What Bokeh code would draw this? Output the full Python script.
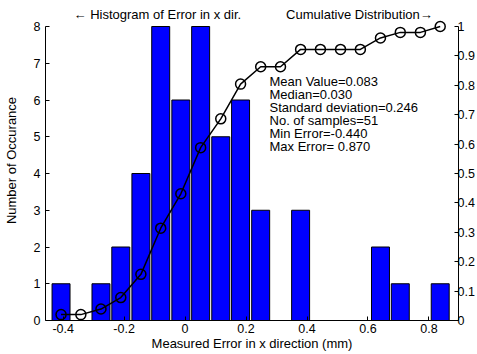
from bokeh.plotting import figure
from bokeh.models import Range1d, LinearAxis, FixedTicker, Label
from bokeh.embed import file_html
from bokeh.resources import INLINE

# Data
bin_centers = [-0.407, -0.342, -0.276, -0.211, -0.145, -0.080, -0.014, 0.051, 0.117, 0.182,
               0.248, 0.313, 0.379, 0.444, 0.510, 0.575, 0.641, 0.706, 0.772, 0.837]
counts = [1, 0, 1, 2, 4, 8, 6, 8, 5, 6, 3, 0, 3, 0, 0, 0, 2, 1, 0, 1]
cdf = [0.020, 0.020, 0.039, 0.078, 0.157, 0.314, 0.431, 0.588, 0.686, 0.804,
       0.863, 0.863, 0.922, 0.922, 0.922, 0.922, 0.961, 0.980, 0.980, 1.000]
bin_width = 0.0655
x_ticks = [-0.4, -0.2, 0, 0.2, 0.4, 0.6, 0.8]
x_tick_labels = ["-0.4", "-0.2", "0", "0.2", "0.4", "0.6", "0.8"]
y_ticks = [0, 1, 2, 3, 4, 5, 6, 7, 8]
y2_ticks = [0, 0.1, 0.2, 0.3, 0.4, 0.5, 0.6, 0.7, 0.8, 0.9, 1.0]
y2_tick_labels = ["0", "0.1", "0.2", "0.3", "0.4", "0.5", "0.6", "0.7", "0.8", "0.9", "1"]
stats_lines = ["Mean Value=0.083", "Median=0.030", "Standard deviation=0.246",
               "No. of samples=51", "Min Error=-0.440", "Max Error= 0.870"]
title_left = "\u2190 Histogram of Error in x dir."
title_right = "Cumulative Distribution\u2192"

FONT = "Liberation Sans"
Y_MAX = 8.0
Y_TOP = 8.0 * 320.0 / 294.0   # frame extends above the axis top to hold the titles
Y2_TOP = Y_TOP / Y_MAX

p = figure(width=477, height=354, output_backend="svg", toolbar_location=None,
           x_range=Range1d(-0.458, 0.897), y_range=Range1d(0, Y_TOP),
           min_border_left=43, min_border_right=5, min_border_top=0, min_border_bottom=34)
p.outline_line_color = None
p.xgrid.visible = False
p.ygrid.visible = False
p.background_fill_color = "white"
p.border_fill_color = "white"

p.extra_y_ranges = {"cdf": Range1d(0, Y2_TOP)}

p.vbar(x=bin_centers, top=counts, bottom=0, width=bin_width * 0.9,
       fill_color="#0000FF", line_color="black", line_width=1)

p.line(bin_centers, cdf, y_range_name="cdf", line_color="black", line_width=1.5)
p.scatter(bin_centers, cdf, y_range_name="cdf", size=10, fill_color=None,
          line_color="black", line_width=1.5)


def style_axis(ax):
    ax.major_tick_in = 4
    ax.major_tick_out = 0
    ax.minor_tick_line_color = None
    ax.major_label_text_font = FONT
    ax.major_label_text_font_size = "12.5px"
    ax.major_label_text_color = "black"
    ax.axis_label_text_font = FONT
    ax.axis_label_text_font_size = "13px"
    ax.axis_label_text_font_style = "normal"
    ax.axis_label_text_color = "black"
    ax.axis_line_color = "black"
    ax.major_tick_line_color = "black"


xa = p.xaxis[0]
style_axis(xa)
xa.ticker = FixedTicker(ticks=x_ticks)
xa.major_label_overrides = {t: l for t, l in zip(x_ticks, x_tick_labels)}
xa.axis_label = "Measured Error in x direction (mm)"
xa.major_label_standoff = 3
xa.axis_label_standoff = 0

ya = p.yaxis[0]
style_axis(ya)
ya.ticker = FixedTicker(ticks=y_ticks)
ya.bounds = (0, Y_MAX)
ya.axis_label = "Number of Occurance"
ya.major_label_standoff = 5
ya.axis_label_standoff = 12

y2 = LinearAxis(y_range_name="cdf")
style_axis(y2)
y2.ticker = FixedTicker(ticks=y2_ticks)
y2.bounds = (0, 1)
y2.major_label_overrides = {t: l for t, l in zip(y2_ticks, y2_tick_labels)}
y2.major_label_standoff = -1
p.add_layout(y2, "right")

for i, line in enumerate(stats_lines):
    p.add_layout(Label(x=0.277, y=6.503 - i * 0.3537, text=line, text_font=FONT,
                       text_font_size="13px", text_baseline="middle", text_align="left",
                       text_color="black"))

p.add_layout(Label(x=-0.091, y=8.327, text=title_left, text_font=FONT, text_font_size="13px",
                   text_baseline="middle", text_align="center", text_color="black"))
p.add_layout(Label(x=0.572, y=8.327, text=title_right, text_font=FONT, text_font_size="13px",
                   text_baseline="middle", text_align="center", text_color="black"))

open("out.html", "w").write(file_html(p, INLINE))
